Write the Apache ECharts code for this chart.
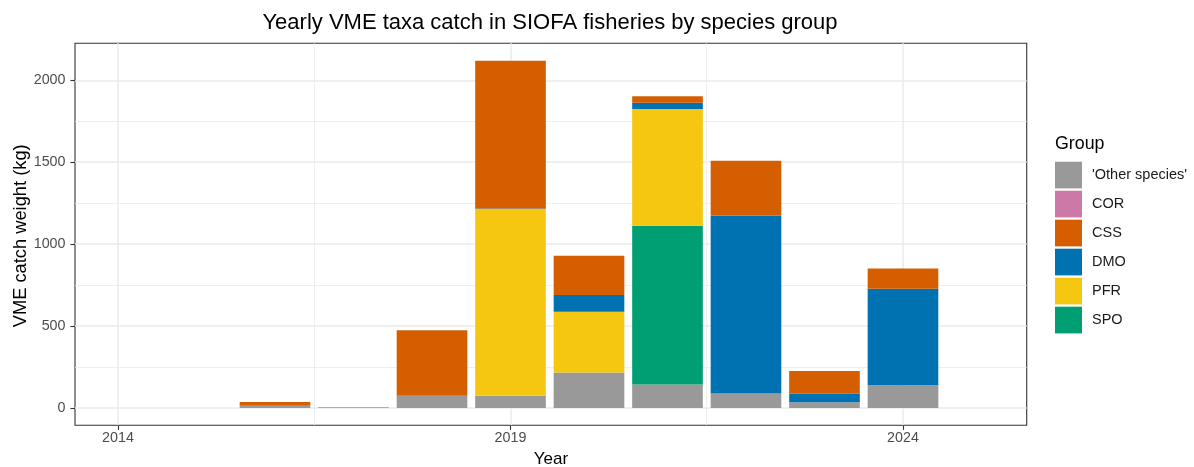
<!DOCTYPE html>
<html><head><meta charset="utf-8">
<script src="https://cdn.jsdelivr.net/npm/echarts@6/dist/echarts.min.js"></script>
<style>html,body{margin:0;padding:0;background:#fff}#c{width:1194px;height:467px}</style>
</head><body><div id="c"></div>
<script>
var years = [2016, 2017, 2018, 2019, 2020, 2021, 2022, 2023, 2024];
var otherSpecies = [14, 4, 75, 74, 216, 143, 88, 35, 139];
var SPO = [0, 0, 0, 0, 0, 969, 0, 0, 0];
var PFR = [0, 0, 0, 1140, 371, 713, 0, 0, 0];
var DMO = [0, 0, 0, 4, 102, 38, 1087, 51, 588];
var CSS = [23, 0, 399, 902, 240, 39, 334, 140, 124];
var COR = [0, 0, 0, 0, 0, 0, 0, 0, 0];
var xTicks = [2014, 2019, 2024];
var xMinor = [2016.5, 2021.5];
var yTicks = [0, 500, 1000, 1500, 2000];
var yMinor = [250, 750, 1250, 1750];
var legendOrder = ["'Other species'", 'COR', 'CSS', 'DMO', 'PFR', 'SPO'];

var groups = [
  {name: "'Other species'", vals: otherSpecies, color: '#999999'},
  {name: 'SPO', vals: SPO, color: '#009E73'},
  {name: 'PFR', vals: PFR, color: '#F5C710'},
  {name: 'DMO', vals: DMO, color: '#0072B2'},
  {name: 'CSS', vals: CSS, color: '#D55E00'},
  {name: 'COR', vals: COR, color: '#CC79A7'}
];

var XMIN = 2013.452, XMAX = 2025.576, YMIN = -106, YMAX = 2226;
var BARW = 0.9;

var cum = years.map(function(){return 0;});
var series = groups.map(function(g){
  var data = [];
  years.forEach(function(y, i){
    var lo = cum[i], hi = cum[i] + g.vals[i];
    cum[i] = hi;
    data.push([y, lo, hi]);
  });
  return {
    type: 'custom', name: g.name, itemStyle: {color: g.color},
    encode: {x: 0, y: [1, 2]},
    data: data,
    renderItem: function(params, api){
      var x = api.value(0), lo = api.value(1), hi = api.value(2);
      if (hi - lo <= 0) return null;
      var p0 = api.coord([x - BARW/2, lo]);
      var p1 = api.coord([x + BARW/2, hi]);
      return {type: 'rect', shape: {x: p0[0], y: p1[1], width: p1[0]-p0[0], height: p0[1]-p1[1]},
        style: {fill: api.visual('color')}};
    }
  };
});

var chart = echarts.init(document.getElementById('c'), null, {renderer: 'canvas'});
var FONT = 'Liberation Sans';
var grid = {left: 75, right: 1194-1026.7, top: 43.3, bottom: 467-425.3, show: true, borderColor: '#333333', borderWidth: 1.1, backgroundColor: '#fff', containLabel: false};

chart.setOption({
  animation: false,
  textStyle: {fontFamily: FONT},
  grid: grid,
  xAxis: [
    {type: 'value', min: XMIN, max: XMAX, gridIndex: 0, position: 'bottom',
     axisLine: {show: false, onZero: false},
     axisTick: {show: true, length: 4.6, lineStyle: {color: '#333333', width: 1.1}, customValues: xTicks},
     axisLabel: {customValues: xTicks, color: '#4D4D4D', fontSize: 14.3, margin: 6, fontFamily: FONT, formatter: function(v){return String(v);}},
     splitLine: {show: true, lineStyle: {color: '#EBEBEB', width: 1.5}}
    },
    {type: 'value', min: XMIN, max: XMAX, gridIndex: 0, position: 'bottom',
     axisLine: {show: false, onZero: false}, axisTick: {show: false, customValues: xMinor},
     axisLabel: {show: false, customValues: xMinor},
     splitLine: {show: true, lineStyle: {color: '#EBEBEB', width: 0.8}}
    }
  ],
  yAxis: [
    {type: 'value', min: YMIN, max: YMAX, gridIndex: 0, position: 'left',
     axisLine: {show: false, onZero: false},
     axisTick: {show: true, length: 4.6, lineStyle: {color: '#333333', width: 1.1}, customValues: yTicks},
     axisLabel: {customValues: yTicks, color: '#4D4D4D', fontSize: 14.3, margin: 9.5, fontFamily: FONT, formatter: function(v){return String(v);}},
     splitLine: {show: true, lineStyle: {color: '#EBEBEB', width: 1.5}}
    },
    {type: 'value', min: YMIN, max: YMAX, gridIndex: 0, position: 'left',
     axisLine: {show: false, onZero: false}, axisTick: {show: false, customValues: yMinor},
     axisLabel: {show: false, customValues: yMinor},
     splitLine: {show: true, lineStyle: {color: '#EBEBEB', width: 0.8}}
    }
  ],
  legend: {
    orient: 'vertical', left: 1055, top: 161.7, padding: 0, itemWidth: 27, itemHeight: 26.7, itemGap: 2.3,
    icon: 'rect', data: legendOrder,
    textStyle: {color: '#1A1A1A', fontSize: 14.5, fontFamily: FONT, padding: [0, 0, 0, 5]},
    selectedMode: false
  },
  graphic: [
    {type: 'text', x: 550, y: 23.2, style: {text: 'Yearly VME taxa catch in SIOFA fisheries by species group', font: '22px "Liberation Sans"', fill: '#000', align: 'center', verticalAlign: 'middle'}},
    {type: 'text', x: 551, y: 459.5, style: {text: 'Year', font: '17px "Liberation Sans"', fill: '#000', align: 'center', verticalAlign: 'middle'}},
    {type: 'text', x: 20.7, y: 235.8, rotation: Math.PI/2, style: {text: 'VME catch weight (kg)', font: '18.3px "Liberation Sans"', fill: '#000', align: 'center', verticalAlign: 'middle'}},
    {type: 'text', x: 1055, y: 143.7, style: {text: 'Group', font: '17.8px "Liberation Sans"', fill: '#000', align: 'left', verticalAlign: 'middle'}}
  ],
  series: series
});
</script></body></html>
